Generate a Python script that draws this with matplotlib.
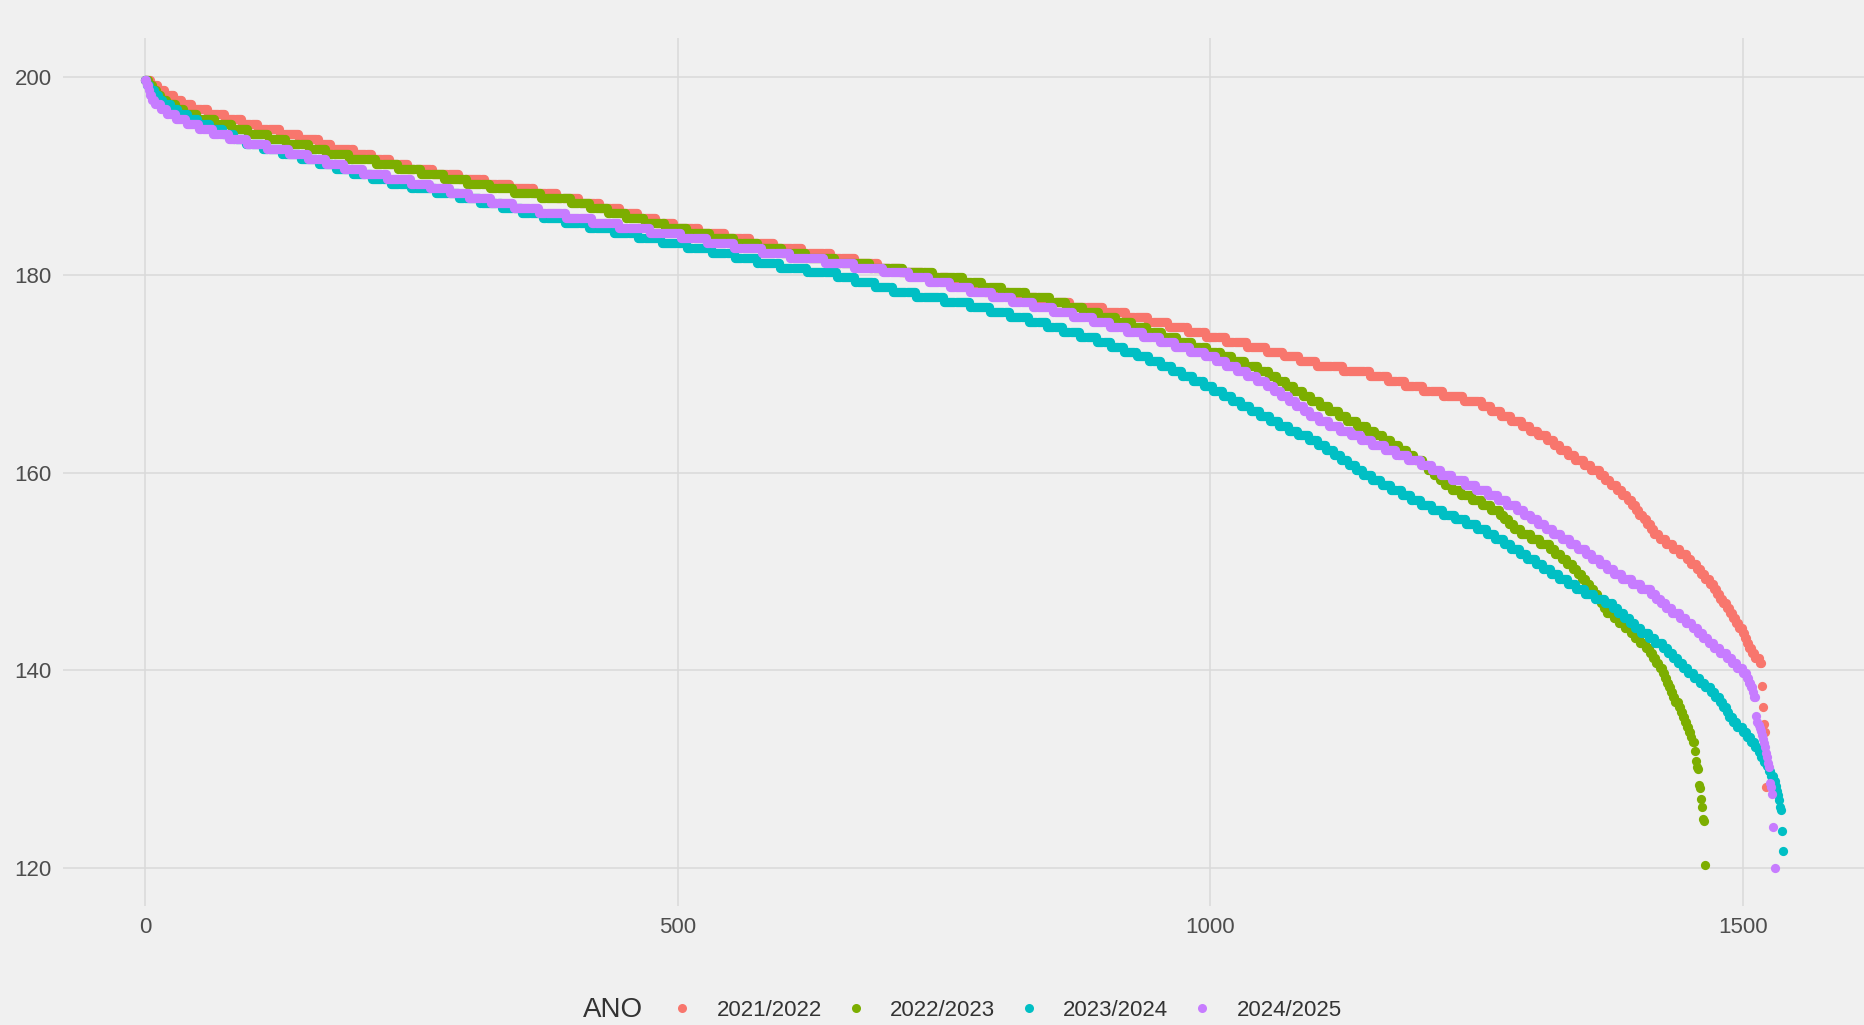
import numpy as np
import matplotlib
matplotlib.use('Agg')
import matplotlib.pyplot as plt
from matplotlib.lines import Line2D

plt.rcParams['font.family'] = ['Liberation Sans', 'DejaVu Sans']

years = ['2021/2022', '2022/2023', '2023/2024', '2024/2025']
colors = ['#F8766D', '#7CAE00', '#00BFC4', '#C77CFF']

# candidates per half-point grade band, counted from 200 downwards
counts_2122 = [6, 6, 7, 8, 8, 9, 15, 16, 16, 15,
               21, 18, 18, 12, 21, 17, 17, 17, 23, 25,
               24, 24, 22, 22, 21, 19, 19, 17, 17, 17,
               23, 25, 23, 23, 26, 27, 23, 21, 21, 23,
               22, 17, 18, 22, 28, 30, 31, 21, 21, 19,
               18, 17, 19, 20, 18, 16, 15, 16, 25, 25,
               17, 16, 17, 19, 19, 17, 9, 9, 10, 10,
               7, 8, 8, 7, 6, 7, 7, 8, 7, 8,
               5, 5, 6, 5, 5, 4, 4, 3, 4, 3,
               4, 3, 5, 6, 7, 6, 7, 4, 5, 4,
               4, 4, 4, 3, 3, 3, 3, 3, 3, 3,
               3, 3, 2, 2, 2, 3, 3, 4, 2]
counts_2223 = [4, 4, 3, 4, 6, 8, 8, 12, 17, 16,
               15, 19, 16, 22, 16, 22, 25, 21, 21, 22,
               21, 22, 22, 26, 28, 18, 17, 17, 17, 19,
               21, 22, 22, 23, 22, 23, 27, 33, 31, 28,
               28, 18, 19, 22, 23, 15, 16, 15, 16, 15,
               14, 14, 14, 14, 14, 13, 11, 12, 12, 10,
               8, 8, 8, 8, 8, 8, 9, 9, 8, 9,
               9, 8, 7, 8, 7, 8, 7, 8, 5, 5,
               6, 5, 6, 9, 10, 9, 9, 8, 4, 5,
               4, 7, 9, 9, 9, 5, 6, 5, 6, 4,
               4, 4, 4, 4, 3, 3, 3, 3, 6, 5,
               6, 5, 4, 5, 5, 4, 3, 3, 3, 3,
               2, 2, 2, 2, 2, 2, 3, 2, 2, 2,
               2, 2, 2, 1, 2]
counts_2324 = [2, 3, 4, 4, 4, 7, 7, 9, 10, 11,
               12, 11, 11, 16, 18, 17, 17, 16, 16, 18,
               18, 19, 23, 22, 20, 20, 19, 20, 20, 23,
               23, 23, 22, 24, 23, 22, 21, 21, 26, 28,
               17, 18, 17, 22, 26, 25, 18, 19, 18, 17,
               15, 16, 16, 13, 12, 12, 12, 11, 10, 10,
               10, 10, 9, 9, 9, 8, 9, 9, 9, 9,
               9, 9, 10, 8, 8, 7, 7, 7, 7, 7,
               8, 9, 9, 10, 9, 9, 10, 11, 11, 10,
               11, 9, 8, 8, 7, 8, 7, 8, 7, 7,
               8, 8, 8, 8, 9, 10, 7, 5, 6, 5,
               5, 6, 7, 6, 7, 5, 5, 4, 5, 5,
               5, 6, 5, 5, 4, 5, 3, 3, 2, 4,
               4, 5, 4, 4, 4, 3, 2, 3, 3, 2,
               2, 3, 1, 1]
counts_2425 = [2, 2, 1, 2, 2, 6, 6, 8, 10, 12,
               13, 15, 17, 19, 20, 18, 17, 17, 18, 22,
               23, 18, 18, 18, 21, 21, 24, 25, 25, 25,
               29, 29, 25, 25, 26, 27, 32, 28, 27, 24,
               19, 20, 19, 20, 19, 20, 19, 18, 19, 16,
               16, 15, 16, 14, 14, 14, 11, 9, 10, 10,
               9, 9, 7, 7, 7, 7, 7, 6, 8, 10,
               10, 10, 10, 10, 12, 11, 11, 12, 10, 9,
               10, 12, 11, 11, 9, 9, 9, 7, 6, 7,
               7, 7, 8, 8, 7, 8, 6, 7, 7, 6,
               8, 9, 9, 9, 5, 4, 5, 6, 7, 6,
               6, 5, 5, 5, 5, 6, 6, 5, 5, 5,
               4, 2, 2, 2, 1, 2]

# lowest grades, listed one by one
tail_2122 = [138.4, 136.3, 134.5, 133.7, 128.2]
tail_2223 = [131.8, 130.8, 130.2, 130.0, 128.4, 128.1, 127.0, 126.2,
             124.9, 124.75, 120.3]
tail_2324 = [127.8, 127.4, 126.9, 126.2, 125.8, 123.7, 121.7]
tail_2425 = [135.4, 134.8, 134.4, 134.1, 133.8, 133.4, 133.0, 132.6, 132.2,
             131.6, 131.2, 130.6, 130.2, 128.6, 128.2, 127.5, 124.1, 120.0]

all_counts = [counts_2122, counts_2223, counts_2324, counts_2425]
all_tails = [tail_2122, tail_2223, tail_2324, tail_2425]

fig = plt.figure(figsize=(18.64, 10.25), dpi=100, facecolor='#F0F0F0')
ax = fig.add_axes([63 / 1864, 1 - 906 / 1025, 1 - 63 / 1864, (906 - 38) / 1025])
ax.set_facecolor('#F0F0F0')
for sp in ax.spines.values():
    sp.set_visible(False)
ax.grid(True, color='#D9D9D9', lw=1.1)
ax.set_axisbelow(True)

for counts, tail, col in zip(all_counts, all_tails, colors):
    mids = 199.75 - 0.5 * np.arange(len(counts))
    y = np.concatenate([np.repeat(mids, counts), tail])
    x = np.arange(len(y))
    ax.scatter(x, y, s=44, color=col, linewidths=0, zorder=3)

ax.set_xlim(-77, 1614)
ax.set_ylim(116.13, 203.98)
ax.set_xticks([0, 500, 1000, 1500])
ax.set_yticks([120, 140, 160, 180, 200])
ax.tick_params(length=0, labelsize=16, labelcolor='#4D4D4D', pad=8)

handles = [Line2D([], [], ls='none', marker='o', ms=6.5, mew=0, color=c) for c in colors]
fig.legend(handles, years, loc='center', bbox_to_anchor=(1006.5 / 1864, 1 - 1010 / 1025),
           ncol=4, frameon=False, fontsize=16, handlelength=1.0, handletextpad=1.04,
           columnspacing=1.03, borderpad=0, labelcolor='#333333')
fig.text(583 / 1864, 1 - 1010 / 1025, 'ANO', fontsize=20, color='#333333',
         ha='left', va='center')

plt.savefig('out.png', dpi=100, facecolor='#F0F0F0')
